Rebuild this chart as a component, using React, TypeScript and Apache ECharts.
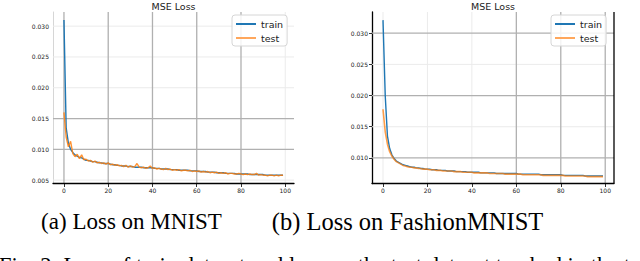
import React, { useEffect, useRef } from "react";
import * as echarts from "echarts";

const xTicks = [0, 20, 40, 60, 80, 100];
const mnistYTicks = [0.005, 0.01, 0.015, 0.02, 0.025, 0.03];
const fashionYTicks = [0.01, 0.015, 0.02, 0.025, 0.03];

const mnistTrain = [
  0.0310, 0.0135, 0.0110, 0.0100, 0.0095, 0.0091, 0.0089, 0.0087, 0.0086, 0.0084,
  0.0082, 0.0082, 0.0081, 0.0080, 0.0080, 0.0079, 0.0078, 0.0078, 0.0077, 0.0077,
  0.0077, 0.0076, 0.0075, 0.0075, 0.0074, 0.0074, 0.0073, 0.0073, 0.0073, 0.0072,
  0.0072, 0.0072, 0.0071, 0.0071, 0.0071, 0.0071, 0.0070, 0.0070, 0.0070, 0.0070,
  0.0070, 0.0069, 0.0069, 0.0069, 0.0068, 0.0068, 0.0068, 0.0068, 0.0067, 0.0067,
  0.0067, 0.0067, 0.0066, 0.0066, 0.0066, 0.0066, 0.0066, 0.0065, 0.0065, 0.0065,
  0.0065, 0.0064, 0.0064, 0.0064, 0.0064, 0.0063, 0.0063, 0.0063, 0.0063, 0.0062,
  0.0062, 0.0062, 0.0062, 0.0061, 0.0061, 0.0061, 0.0061, 0.0061, 0.0060, 0.0060,
  0.0060, 0.0060, 0.0060, 0.0060, 0.0059, 0.0059, 0.0059, 0.0059, 0.0059, 0.0059,
  0.0059, 0.0058, 0.0058, 0.0058, 0.0058, 0.0058, 0.0058, 0.0058, 0.0058, 0.0058,
];

const mnistTest = [
  0.0160, 0.0120, 0.0104, 0.0113, 0.0093, 0.0088, 0.0092, 0.0085, 0.0091, 0.0083,
  0.0084, 0.0081, 0.0082, 0.0079, 0.0081, 0.0078, 0.0079, 0.0077, 0.0078, 0.0076,
  0.0078, 0.0075, 0.0076, 0.0074, 0.0075, 0.0073, 0.0074, 0.0072, 0.0074, 0.0071,
  0.0073, 0.0071, 0.0072, 0.0077, 0.0071, 0.0070, 0.0071, 0.0069, 0.0070, 0.0073,
  0.0069, 0.0070, 0.0068, 0.0069, 0.0068, 0.0067, 0.0069, 0.0067, 0.0068, 0.0066,
  0.0067, 0.0066, 0.0067, 0.0065, 0.0066, 0.0066, 0.0065, 0.0066, 0.0064, 0.0065,
  0.0064, 0.0065, 0.0063, 0.0064, 0.0063, 0.0064, 0.0062, 0.0063, 0.0062, 0.0063,
  0.0061, 0.0062, 0.0061, 0.0062, 0.0060, 0.0061, 0.0061, 0.0060, 0.0060, 0.0061,
  0.0060, 0.0059, 0.0060, 0.0059, 0.0060, 0.0059, 0.0059, 0.0061, 0.0058, 0.0059,
  0.0058, 0.0058, 0.0057, 0.0058, 0.0058, 0.0057, 0.0058, 0.0057, 0.0058, 0.0058,
];

const fashionTrain = [
  0.0321, 0.0200, 0.0135, 0.0115, 0.0105, 0.0099, 0.0095, 0.0093, 0.0091, 0.0089,
  0.0088, 0.0087, 0.0086, 0.0085, 0.0085, 0.0084, 0.0084, 0.0083, 0.0083, 0.0082,
  0.0082, 0.0082, 0.0081, 0.0081, 0.0081, 0.0080, 0.0080, 0.0080, 0.0080, 0.0079,
  0.0079, 0.0079, 0.0079, 0.0078, 0.0078, 0.0078, 0.0078, 0.0078, 0.0077, 0.0077,
  0.0077, 0.0077, 0.0077, 0.0077, 0.0076, 0.0076, 0.0076, 0.0076, 0.0076, 0.0076,
  0.0076, 0.0075, 0.0075, 0.0075, 0.0075, 0.0075, 0.0075, 0.0075, 0.0075, 0.0075,
  0.0075, 0.0074, 0.0074, 0.0074, 0.0074, 0.0074, 0.0074, 0.0074, 0.0074, 0.0074,
  0.0074, 0.0073, 0.0073, 0.0073, 0.0073, 0.0073, 0.0073, 0.0073, 0.0073, 0.0073,
  0.0073, 0.0072, 0.0072, 0.0072, 0.0072, 0.0072, 0.0072, 0.0072, 0.0072, 0.0072,
  0.0072, 0.0071, 0.0071, 0.0071, 0.0071, 0.0071, 0.0071, 0.0071, 0.0071, 0.0071,
];

const fashionTest = [
  0.0178, 0.0142, 0.0122, 0.0110, 0.0103, 0.0098, 0.0094, 0.0092, 0.0090, 0.0088,
  0.0087, 0.0086, 0.0085, 0.0085, 0.0084, 0.0084, 0.0083, 0.0083, 0.0082, 0.0082,
  0.0082, 0.0081, 0.0081, 0.0081, 0.0080, 0.0080, 0.0080, 0.0079, 0.0079, 0.0079,
  0.0079, 0.0079, 0.0078, 0.0078, 0.0078, 0.0078, 0.0077, 0.0077, 0.0077, 0.0077,
  0.0077, 0.0076, 0.0076, 0.0076, 0.0076, 0.0076, 0.0076, 0.0076, 0.0075, 0.0075,
  0.0075, 0.0075, 0.0075, 0.0075, 0.0075, 0.0074, 0.0074, 0.0074, 0.0074, 0.0074,
  0.0074, 0.0074, 0.0074, 0.0073, 0.0073, 0.0073, 0.0073, 0.0073, 0.0073, 0.0073,
  0.0073, 0.0073, 0.0072, 0.0072, 0.0072, 0.0072, 0.0072, 0.0072, 0.0072, 0.0072,
  0.0072, 0.0072, 0.0071, 0.0071, 0.0071, 0.0071, 0.0071, 0.0071, 0.0071, 0.0071,
  0.0071, 0.0071, 0.0070, 0.0070, 0.0070, 0.0070, 0.0070, 0.0070, 0.0070, 0.0070,
];

// gridline styling per panel: which ticks get the darker lines
const mnistDarkY = [0.01, 0.015];
const mnistLightY = [0.005, 0.02, 0.025, 0.03];
const mnistDarkX = [0, 20, 40, 60, 80];
const mnistLightX = [100];
const fashionDarkY = [0.01, 0.02, 0.03];
const fashionLightY = [0.015, 0.025];
const fashionDarkX = [60, 80, 100];
const fashionLightX = [0, 20, 40];

const X_MIN = -4.95;
const X_MAX = 103.95;
const MNIST_Y = [0.00445, 0.0323];
const FASHION_Y = [0.0059, 0.0334];

const DARK = "#b0b0b0";
const LIGHT = "#ebebeb";
const FONT = "DejaVu Sans";
const SERIF = "Liberation Serif";

function pairs(arr: number[]) {
  return arr.map((v, i) => [i, v]);
}

function gridSeries(gi: number, vals: number[], horiz: boolean, color: string, yr: number[], z: number) {
  return vals.map((v) => ({
    type: "line",
    xAxisIndex: gi,
    yAxisIndex: gi,
    silent: true,
    showSymbol: false,
    z,
    data: horiz ? [[X_MIN, v], [X_MAX, v]] : [[v, yr[0]], [v, yr[1]]],
    lineStyle: { color, width: color === DARK ? 1.3 : 1, type: "solid" },
    emphasis: { disabled: true },
  }));
}

export default function App() {
  const ref = useRef<HTMLDivElement>(null);
  useEffect(() => {
    if (!ref.current) return;
    const chart = echarts.init(ref.current, null, { renderer: "svg" });
    const xAxisBase = (gi: number) => ({
      gridIndex: gi,
      type: "value",
      min: X_MIN,
      max: X_MAX,
      axisLine: { onZero: false, lineStyle: { color: "#000", width: 1.3 } },
      axisTick: { customValues: xTicks, length: 3.5, lineStyle: { color: "#000", width: 0.8 } },
      axisLabel: { customValues: xTicks, fontSize: 6, margin: 4, color: "#222", fontFamily: FONT },
      splitLine: { show: false },
      z: 10,
    });
    const legendBase = (left: number) => ({
      left,
      top: 15,
      orient: "vertical",
      data: ["train", "test"],
      icon: "rect",
      itemWidth: 20,
      itemHeight: 2,
      itemGap: 4,
      padding: [4, 4, 3, 4],
      backgroundColor: "rgba(255,255,255,0.85)",
      borderColor: "#d6d6d6",
      borderWidth: 1,
      borderRadius: 3,
      textStyle: { fontSize: 9.5, fontFamily: FONT, color: "#222" },
      selectedMode: false,
      z: 20,
    });
    const option: any = {
      animation: false,
      grid: [
        { left: 53, top: 12, width: 241, height: 171.5 },
        { left: 372, top: 12, width: 242, height: 171.5 },
      ],
      xAxis: [xAxisBase(0), xAxisBase(1)],
      yAxis: [
        {
          gridIndex: 0,
          type: "value",
          min: MNIST_Y[0],
          max: MNIST_Y[1],
          axisLine: { show: true, onZero: false, lineStyle: { color: "#d6d6d6", width: 1 } },
          axisTick: { show: false },
          axisLabel: {
            customValues: mnistYTicks,
            fontSize: 6,
            margin: 4,
            color: "#222",
            fontFamily: FONT,
            formatter: (v: number) => v.toFixed(3),
          },
          splitLine: { show: false },
        },
        {
          gridIndex: 1,
          type: "value",
          min: FASHION_Y[0],
          max: FASHION_Y[1],
          axisLine: { show: true, onZero: false, lineStyle: { color: "#000", width: 1.3 } },
          axisTick: { show: true, customValues: fashionYTicks, length: 3, lineStyle: { color: "#000", width: 0.8 } },
          axisLabel: {
            customValues: fashionYTicks,
            fontSize: 6,
            margin: 4,
            color: "#222",
            fontFamily: FONT,
            formatter: (v: number) => v.toFixed(3),
          },
          splitLine: { show: false },
        },
      ],
      legend: [legendBase(232), legendBase(551)],
      series: [
        ...gridSeries(0, mnistLightY, true, LIGHT, MNIST_Y, 1),
        ...gridSeries(0, mnistLightX, false, LIGHT, MNIST_Y, 1),
        ...gridSeries(0, mnistDarkY, true, DARK, MNIST_Y, 2),
        ...gridSeries(0, mnistDarkX, false, DARK, MNIST_Y, 2),
        ...gridSeries(1, fashionLightY, true, LIGHT, FASHION_Y, 1),
        ...gridSeries(1, fashionLightX, false, LIGHT, FASHION_Y, 1),
        ...gridSeries(1, fashionDarkY, true, DARK, FASHION_Y, 2),
        ...gridSeries(1, fashionDarkX, false, DARK, FASHION_Y, 2),
        ...gridSeries(1, [X_MAX], false, "#000", FASHION_Y, 2).map((s: any) => ({
          ...s,
          lineStyle: { color: "#000", width: 1.3, type: "solid" },
        })),
        {
          name: "train",
          type: "line",
          xAxisIndex: 0,
          yAxisIndex: 0,
          data: pairs(mnistTrain),
          showSymbol: false,
          z: 3,
          lineStyle: { color: "#1f77b4", width: 1.4 },
          itemStyle: { color: "#1f77b4" },
        },
        {
          name: "test",
          type: "line",
          xAxisIndex: 0,
          yAxisIndex: 0,
          data: pairs(mnistTest),
          showSymbol: false,
          z: 4,
          lineStyle: { color: "#ff7f0e", width: 1.4, opacity: 0.85 },
          itemStyle: { color: "#ffa75c" },
        },
        {
          name: "train",
          type: "line",
          xAxisIndex: 1,
          yAxisIndex: 1,
          data: pairs(fashionTrain),
          showSymbol: false,
          z: 3,
          lineStyle: { color: "#1f77b4", width: 1.4 },
          itemStyle: { color: "#1f77b4" },
        },
        {
          name: "test",
          type: "line",
          xAxisIndex: 1,
          yAxisIndex: 1,
          data: pairs(fashionTest),
          showSymbol: false,
          z: 4,
          lineStyle: { color: "#ff7f0e", width: 1.6, opacity: 0.75 },
          itemStyle: { color: "#ffa75c" },
        },
      ],
      graphic: [
        {
          type: "text",
          x: 173.5,
          y: 6,
          style: { text: "MSE Loss", fontSize: 9.5, fontFamily: FONT, fill: "#222", align: "center", verticalAlign: "middle" },
        },
        {
          type: "text",
          x: 493,
          y: 6,
          style: { text: "MSE Loss", fontSize: 9.5, fontFamily: FONT, fill: "#222", align: "center", verticalAlign: "middle" },
        },
        {
          type: "text",
          x: 131.5,
          y: 221,
          style: { text: "(a) Loss on MNIST", fontSize: 23, fontFamily: SERIF, fill: "#000", align: "center", verticalAlign: "middle" },
        },
        {
          type: "text",
          x: 407.5,
          y: 221,
          style: { text: "(b) Loss on FashionMNIST", fontSize: 24.5, fontFamily: SERIF, fill: "#000", align: "center", verticalAlign: "middle" },
        },
        {
          type: "text",
          x: -1,
          y: 265,
          style: {
            text: "Fig. 2: Loss of train dataset and loss on the test dataset tracked in the training",
            fontSize: 22.5,
            fontFamily: SERIF,
            fill: "#000",
            align: "left",
            verticalAlign: "middle",
          },
        },
      ],
    };
    chart.setOption(option);
    return () => chart.dispose();
  }, []);
  return (
    <div
      ref={ref}
      style={{ position: "fixed", left: 0, top: 0, width: 640, height: 261, background: "#fff" }}
    />
  );
}
